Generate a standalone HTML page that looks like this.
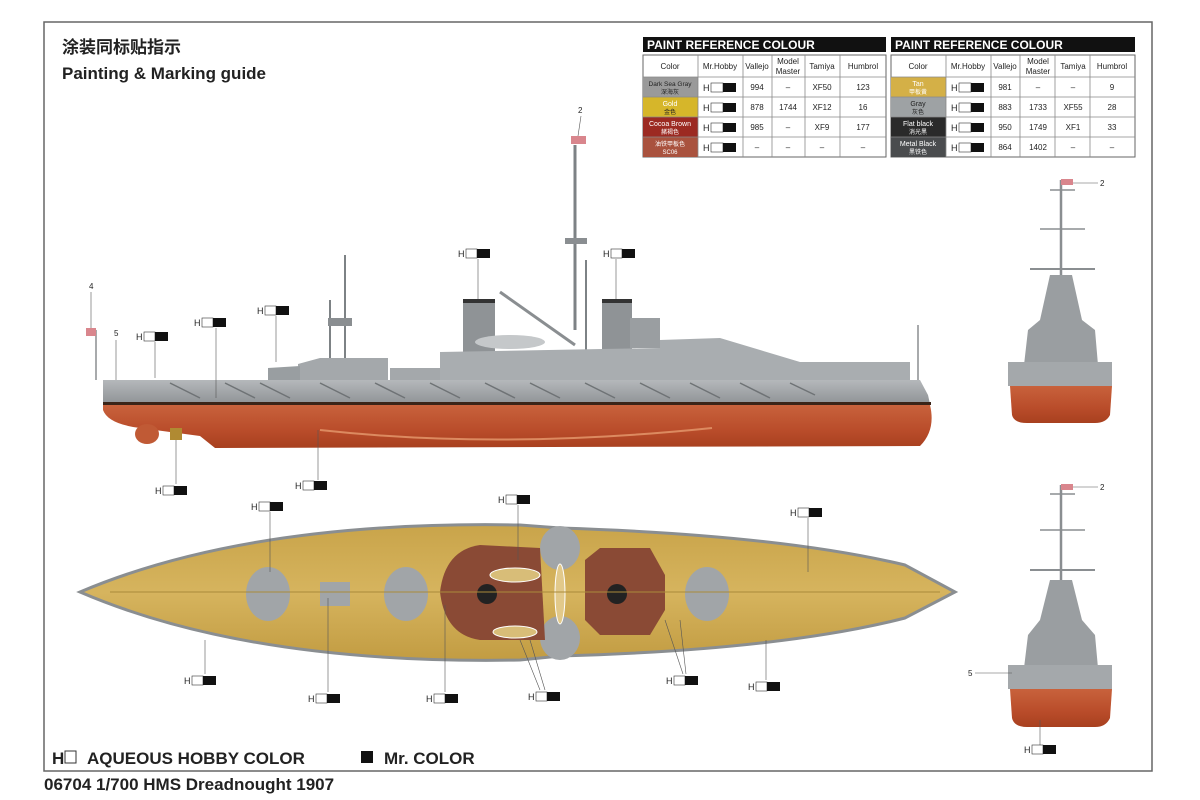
<!DOCTYPE html>
<html><head><meta charset="utf-8"><style>
body{margin:0;background:#fff;width:1200px;height:800px;overflow:hidden;font-family:"Liberation Sans","Noto Sans CJK SC",sans-serif}
svg{display:block}
</style></head><body>
<svg width="1200" height="800" viewBox="0 0 1200 800" font-family="Liberation Sans, Noto Sans CJK SC, sans-serif">
<defs>
<linearGradient id="hull" x1="0" y1="0" x2="0" y2="1"><stop offset="0" stop-color="#c8623c"/><stop offset="0.6" stop-color="#b94c2a"/><stop offset="1" stop-color="#a8401f"/></linearGradient>
<linearGradient id="gray" x1="0" y1="0" x2="0" y2="1"><stop offset="0" stop-color="#b5b8bb"/><stop offset="1" stop-color="#8f9396"/></linearGradient>
<linearGradient id="deck" x1="0" y1="0" x2="0" y2="1"><stop offset="0" stop-color="#c9a44a"/><stop offset="0.5" stop-color="#d6b45e"/><stop offset="1" stop-color="#c29c42"/></linearGradient>
</defs>
<rect x="44" y="22" width="1108" height="749" fill="none" stroke="#666" stroke-width="1.5"/>
<text x="62" y="53" font-size="17" font-weight="bold" fill="#222">涂装同标贴指示</text>
<text x="62" y="79" font-size="17" font-weight="bold" fill="#222">Painting &amp; Marking guide</text>

<!-- Left table -->
<g font-size="8" fill="#222" text-anchor="middle">
<rect x="643" y="37" width="243" height="15" fill="#111"/>
<text x="647" y="49" font-size="12" font-weight="bold" fill="#fff" text-anchor="start">PAINT  REFERENCE COLOUR</text>
<rect x="643" y="55" width="243" height="102" fill="#fff" stroke="#666"/>
<rect x="643" y="77" width="55" height="20" fill="#9a9a9a"/>
<rect x="643" y="97" width="55" height="20" fill="#d6b62a"/>
<rect x="643" y="117" width="55" height="20" fill="#9c2a22"/>
<rect x="643" y="137" width="55" height="20" fill="#a9523e"/>
<g stroke="#888" stroke-width="0.8">
<line x1="643" y1="77" x2="886" y2="77"/><line x1="643" y1="97" x2="886" y2="97"/><line x1="643" y1="117" x2="886" y2="117"/><line x1="643" y1="137" x2="886" y2="137"/>
<line x1="698" y1="55" x2="698" y2="157"/><line x1="743" y1="55" x2="743" y2="157"/><line x1="772" y1="55" x2="772" y2="157"/><line x1="805" y1="55" x2="805" y2="157"/><line x1="840" y1="55" x2="840" y2="157"/>
</g>
<text x="670" y="69">Color</text><text x="720" y="69">Mr.Hobby</text><text x="757" y="69">Vallejo</text><text x="788" y="64">Model</text><text x="788" y="74">Master</text><text x="822" y="69">Tamiya</text><text x="863" y="69">Humbrol</text>
<text x="670" y="86" font-size="6.5">Dark Sea Gray</text><text x="670" y="94" font-size="6">深海灰</text>
<text x="670" y="106" font-size="7" fill="#fff">Gold</text><text x="670" y="114" font-size="6">金色</text>
<text x="670" y="126" font-size="7" fill="#fff">Cocoa Brown</text><text x="670" y="134" font-size="6" fill="#fff">赭褐色</text>
<text x="670" y="146" font-size="6" fill="#fff">油铁甲板色</text><text x="670" y="154" font-size="6" fill="#fff">SC06</text>
<text x="757" y="90">994</text><text x="788" y="90">–</text><text x="822" y="90">XF50</text><text x="863" y="90">123</text>
<text x="757" y="110">878</text><text x="788" y="110">1744</text><text x="822" y="110">XF12</text><text x="863" y="110">16</text>
<text x="757" y="130">985</text><text x="788" y="130">–</text><text x="822" y="130">XF9</text><text x="863" y="130">177</text>
<text x="757" y="150">–</text><text x="788" y="150">–</text><text x="822" y="150">–</text><text x="863" y="150">–</text>
</g>
<!-- Right table -->
<g font-size="8" fill="#222" text-anchor="middle">
<rect x="891" y="37" width="244" height="15" fill="#111"/>
<text x="895" y="49" font-size="12" font-weight="bold" fill="#fff" text-anchor="start">PAINT  REFERENCE COLOUR</text>
<rect x="891" y="55" width="244" height="102" fill="#fff" stroke="#666"/>
<rect x="891" y="77" width="55" height="20" fill="#d4b047"/>
<rect x="891" y="97" width="55" height="20" fill="#9ea2a4"/>
<rect x="891" y="117" width="55" height="20" fill="#2a2a2a"/>
<rect x="891" y="137" width="55" height="20" fill="#4a4c4e"/>
<g stroke="#888" stroke-width="0.8">
<line x1="891" y1="77" x2="1135" y2="77"/><line x1="891" y1="97" x2="1135" y2="97"/><line x1="891" y1="117" x2="1135" y2="117"/><line x1="891" y1="137" x2="1135" y2="137"/>
<line x1="946" y1="55" x2="946" y2="157"/><line x1="991" y1="55" x2="991" y2="157"/><line x1="1020" y1="55" x2="1020" y2="157"/><line x1="1055" y1="55" x2="1055" y2="157"/><line x1="1090" y1="55" x2="1090" y2="157"/>
</g>
<text x="918" y="69">Color</text><text x="968" y="69">Mr.Hobby</text><text x="1005" y="69">Vallejo</text><text x="1038" y="64">Model</text><text x="1038" y="74">Master</text><text x="1073" y="69">Tamiya</text><text x="1112" y="69">Humbrol</text>
<text x="918" y="86" font-size="7" fill="#fff">Tan</text><text x="918" y="94" font-size="6" fill="#fff">甲板黄</text>
<text x="918" y="106" font-size="7">Gray</text><text x="918" y="114" font-size="6">灰色</text>
<text x="918" y="126" font-size="7" fill="#fff">Flat black</text><text x="918" y="134" font-size="6" fill="#fff">消光黑</text>
<text x="918" y="146" font-size="7" fill="#fff">Metal  Black</text><text x="918" y="154" font-size="6" fill="#fff">黑铁色</text>
<text x="1005" y="90">981</text><text x="1038" y="90">–</text><text x="1073" y="90">–</text><text x="1112" y="90">9</text>
<text x="1005" y="110">883</text><text x="1038" y="110">1733</text><text x="1073" y="110">XF55</text><text x="1112" y="110">28</text>
<text x="1005" y="130">950</text><text x="1038" y="130">1749</text><text x="1073" y="130">XF1</text><text x="1112" y="130">33</text>
<text x="1005" y="150">864</text><text x="1038" y="150">1402</text><text x="1073" y="150">–</text><text x="1112" y="150">–</text>
</g>
<!-- H labels in tables -->
<g font-size="9" fill="#222">
<text x="703" y="91">H</text><rect x="711" y="83" width="12" height="9" fill="#fff" stroke="#333" stroke-width=".6"/><rect x="723" y="83" width="13" height="9" fill="#111"/>
<text x="703" y="111">H</text><rect x="711" y="103" width="12" height="9" fill="#fff" stroke="#333" stroke-width=".6"/><rect x="723" y="103" width="13" height="9" fill="#111"/>
<text x="703" y="131">H</text><rect x="711" y="123" width="12" height="9" fill="#fff" stroke="#333" stroke-width=".6"/><rect x="723" y="123" width="13" height="9" fill="#111"/>
<text x="703" y="151">H</text><rect x="711" y="143" width="12" height="9" fill="#fff" stroke="#333" stroke-width=".6"/><rect x="723" y="143" width="13" height="9" fill="#111"/>
<text x="951" y="91">H</text><rect x="959" y="83" width="12" height="9" fill="#fff" stroke="#333" stroke-width=".6"/><rect x="971" y="83" width="13" height="9" fill="#111"/>
<text x="951" y="111">H</text><rect x="959" y="103" width="12" height="9" fill="#fff" stroke="#333" stroke-width=".6"/><rect x="971" y="103" width="13" height="9" fill="#111"/>
<text x="951" y="131">H</text><rect x="959" y="123" width="12" height="9" fill="#fff" stroke="#333" stroke-width=".6"/><rect x="971" y="123" width="13" height="9" fill="#111"/>
<text x="951" y="151">H</text><rect x="959" y="143" width="12" height="9" fill="#fff" stroke="#333" stroke-width=".6"/><rect x="971" y="143" width="13" height="9" fill="#111"/>
</g>

<!-- SIDE VIEW -->
<g>
<!-- masts -->
<line x1="575" y1="145" x2="575" y2="330" stroke="#7d8285" stroke-width="3"/>
<line x1="586" y1="260" x2="586" y2="350" stroke="#7d8285" stroke-width="2"/>
<rect x="565" y="238" width="22" height="6" fill="#8a8e91"/>
<rect x="571" y="136" width="15" height="8" fill="#d9868d"/>
<line x1="345" y1="255" x2="345" y2="380" stroke="#7d8285" stroke-width="2"/>
<line x1="330" y1="300" x2="330" y2="380" stroke="#7d8285" stroke-width="2"/>
<rect x="328" y="318" width="24" height="8" fill="#8a8e91"/>
<line x1="500" y1="292" x2="575" y2="345" stroke="#8a8e91" stroke-width="3"/>
<line x1="918" y1="325" x2="918" y2="380" stroke="#8a8e91" stroke-width="1.5"/>
<line x1="96" y1="330" x2="96" y2="380" stroke="#8a8e91" stroke-width="1.5"/>
<rect x="86" y="328" width="10" height="8" fill="#d9868d"/>
<!-- funnels -->
<rect x="463" y="300" width="32" height="60" fill="#8f9396"/>
<rect x="463" y="299" width="32" height="4" fill="#333"/>
<rect x="602" y="300" width="30" height="60" fill="#8f9396"/>
<rect x="602" y="299" width="30" height="4" fill="#333"/>
<!-- superstructure -->
<path d="M298 380 L298 364 L320 358 L388 358 L388 380 Z" fill="#a4a8ab"/>
<path d="M268 380 L268 368 L300 366 L300 380Z" fill="#999ea1"/>
<path d="M390 380 L390 368 L440 368 L440 380 Z" fill="#a4a8ab"/>
<path d="M440 380 L440 352 L660 348 L660 340 L720 338 L780 356 L800 362 L910 362 L910 380 Z" fill="#a9adb0"/>
<ellipse cx="510" cy="342" rx="35" ry="7" fill="#c5c8ca"/>
<rect x="630" y="318" width="30" height="30" fill="#9a9ea1"/>
<!-- topside gray -->
<path d="M103 380 L920 380 L928 395 L930 404 L103 404 Z" fill="url(#gray)"/>
<g stroke="#6f7376" stroke-width="1.5">
<line x1="170" y1="383" x2="200" y2="398"/><line x1="225" y1="383" x2="255" y2="398"/><line x1="260" y1="383" x2="290" y2="398"/><line x1="320" y1="383" x2="350" y2="398"/><line x1="375" y1="383" x2="405" y2="398"/><line x1="430" y1="383" x2="460" y2="398"/><line x1="485" y1="383" x2="515" y2="398"/><line x1="530" y1="383" x2="560" y2="398"/><line x1="585" y1="383" x2="615" y2="398"/><line x1="640" y1="383" x2="670" y2="398"/><line x1="690" y1="383" x2="720" y2="398"/><line x1="740" y1="383" x2="770" y2="398"/><line x1="790" y1="383" x2="815" y2="395"/>
</g>
<rect x="103" y="402" width="828" height="3" fill="#3a2418"/>
<!-- hull -->
<path d="M103 405 L930 405 Q936 430 920 446 L215 448 L200 436 L140 428 Q108 424 103 410 Z" fill="url(#hull)"/>
<path d="M320 430 Q500 450 712 428" stroke="#dc8a60" stroke-width="2" fill="none"/>
<ellipse cx="147" cy="434" rx="12" ry="10" fill="#c05a35"/>
<rect x="170" y="428" width="12" height="12" fill="#b08a32"/>
</g>

<!-- side labels -->
<g font-size="10" fill="#222" stroke="none">
<text x="578" y="113" font-size="8">2</text><line x1="581" y1="116" x2="578" y2="136" stroke="#555" stroke-width=".6"/>
<text x="89" y="289" font-size="8">4</text><line x1="91" y1="292" x2="91" y2="328" stroke="#555" stroke-width=".6"/>
<text x="114" y="336" font-size="8">5</text><line x1="116" y1="340" x2="116" y2="380" stroke="#555" stroke-width=".6"/>
</g>
<g font-size="9" fill="#222">
<!-- template: H white black -->
<g transform="translate(136,332)"><text x="0" y="8">H</text><rect x="8" y="0" width="11" height="9" fill="#fff" stroke="#333" stroke-width=".6"/><rect x="19" y="0" width="13" height="9" fill="#111"/></g>
<line x1="155" y1="342" x2="155" y2="378" stroke="#555" stroke-width=".6"/>
<g transform="translate(194,318)"><text x="0" y="8">H</text><rect x="8" y="0" width="11" height="9" fill="#fff" stroke="#333" stroke-width=".6"/><rect x="19" y="0" width="13" height="9" fill="#111"/></g>
<line x1="216" y1="328" x2="216" y2="398" stroke="#555" stroke-width=".6"/>
<g transform="translate(257,306)"><text x="0" y="8">H</text><rect x="8" y="0" width="11" height="9" fill="#fff" stroke="#333" stroke-width=".6"/><rect x="19" y="0" width="13" height="9" fill="#111"/></g>
<line x1="276" y1="316" x2="276" y2="362" stroke="#555" stroke-width=".6"/>
<g transform="translate(458,249)"><text x="0" y="8">H</text><rect x="8" y="0" width="11" height="9" fill="#fff" stroke="#333" stroke-width=".6"/><rect x="19" y="0" width="13" height="9" fill="#111"/></g>
<line x1="478" y1="259" x2="478" y2="299" stroke="#555" stroke-width=".6"/>
<g transform="translate(603,249)"><text x="0" y="8">H</text><rect x="8" y="0" width="11" height="9" fill="#fff" stroke="#333" stroke-width=".6"/><rect x="19" y="0" width="13" height="9" fill="#111"/></g>
<line x1="616" y1="259" x2="616" y2="299" stroke="#555" stroke-width=".6"/>
<g transform="translate(155,486)"><text x="0" y="8">H</text><rect x="8" y="0" width="11" height="9" fill="#fff" stroke="#333" stroke-width=".6"/><rect x="19" y="0" width="13" height="9" fill="#111"/></g>
<line x1="176" y1="440" x2="176" y2="484" stroke="#555" stroke-width=".6"/>
<g transform="translate(295,481)"><text x="0" y="8">H</text><rect x="8" y="0" width="11" height="9" fill="#fff" stroke="#333" stroke-width=".6"/><rect x="19" y="0" width="13" height="9" fill="#111"/></g>
<line x1="318" y1="430" x2="318" y2="480" stroke="#555" stroke-width=".6"/>
</g>

<!-- TOP VIEW -->
<path d="M80 592 Q250 520 520 525 L560 528 Q780 535 905 565 L955 592 L905 618 Q780 650 560 656 L520 660 Q250 665 80 592 Z" fill="url(#deck)" stroke="#8a8e91" stroke-width="3"/>
<g fill="#a1a5a8">
<ellipse cx="268" cy="594" rx="22" ry="27"/><ellipse cx="406" cy="594" rx="22" ry="27"/><ellipse cx="707" cy="594" rx="22" ry="27"/>
<ellipse cx="560" cy="548" rx="20" ry="22"/><ellipse cx="560" cy="638" rx="20" ry="22"/>
<rect x="320" y="582" width="30" height="24"/>
</g>
<path d="M440 592 Q445 550 480 545 L540 548 L545 640 L480 640 Q445 635 440 592 Z" fill="#8a4a35"/>
<path d="M585 560 L600 548 L650 548 L665 575 L665 610 L650 635 L600 635 L585 620 Z" fill="#8a4a35"/>
<ellipse cx="487" cy="594" rx="10" ry="10" fill="#222"/><ellipse cx="617" cy="594" rx="10" ry="10" fill="#222"/>
<ellipse cx="560" cy="594" rx="5" ry="30" fill="#e2c98a" stroke="#fff" stroke-width="1"/>
<ellipse cx="515" cy="575" rx="25" ry="7" fill="#d8bd78" stroke="#fff" stroke-width="1"/>
<ellipse cx="515" cy="632" rx="22" ry="6" fill="#d8bd78" stroke="#fff" stroke-width="1"/>
<line x1="110" y1="592" x2="940" y2="592" stroke="#a98a3a" stroke-width="1"/>

<!-- top labels -->
<g font-size="9" fill="#222">
<g transform="translate(251,502)"><text x="0" y="8">H</text><rect x="8" y="0" width="11" height="9" fill="#fff" stroke="#333" stroke-width=".6"/><rect x="19" y="0" width="13" height="9" fill="#111"/></g>
<line x1="270" y1="512" x2="270" y2="572" stroke="#555" stroke-width=".6"/>
<g transform="translate(498,495)"><text x="0" y="8">H</text><rect x="8" y="0" width="11" height="9" fill="#fff" stroke="#333" stroke-width=".6"/><rect x="19" y="0" width="13" height="9" fill="#111"/></g>
<line x1="518" y1="505" x2="518" y2="560" stroke="#555" stroke-width=".6"/>
<g transform="translate(790,508)"><text x="0" y="8">H</text><rect x="8" y="0" width="11" height="9" fill="#fff" stroke="#333" stroke-width=".6"/><rect x="19" y="0" width="13" height="9" fill="#111"/></g>
<line x1="808" y1="518" x2="808" y2="572" stroke="#555" stroke-width=".6"/>
<g transform="translate(184,676)"><text x="0" y="8">H</text><rect x="8" y="0" width="11" height="9" fill="#fff" stroke="#333" stroke-width=".6"/><rect x="19" y="0" width="13" height="9" fill="#111"/></g>
<line x1="205" y1="640" x2="205" y2="674" stroke="#555" stroke-width=".6"/>
<g transform="translate(308,694)"><text x="0" y="8">H</text><rect x="8" y="0" width="11" height="9" fill="#fff" stroke="#333" stroke-width=".6"/><rect x="19" y="0" width="13" height="9" fill="#111"/></g>
<line x1="328" y1="598" x2="328" y2="692" stroke="#555" stroke-width=".6"/>
<g transform="translate(426,694)"><text x="0" y="8">H</text><rect x="8" y="0" width="11" height="9" fill="#fff" stroke="#333" stroke-width=".6"/><rect x="19" y="0" width="13" height="9" fill="#111"/></g>
<line x1="445" y1="605" x2="445" y2="692" stroke="#555" stroke-width=".6"/>
<g transform="translate(528,692)"><text x="0" y="8">H</text><rect x="8" y="0" width="11" height="9" fill="#fff" stroke="#333" stroke-width=".6"/><rect x="19" y="0" width="13" height="9" fill="#111"/></g>
<line x1="520" y1="640" x2="540" y2="690" stroke="#555" stroke-width=".6"/><line x1="530" y1="640" x2="545" y2="690" stroke="#555" stroke-width=".6"/>
<g transform="translate(666,676)"><text x="0" y="8">H</text><rect x="8" y="0" width="11" height="9" fill="#fff" stroke="#333" stroke-width=".6"/><rect x="19" y="0" width="13" height="9" fill="#111"/></g>
<line x1="665" y1="620" x2="683" y2="674" stroke="#555" stroke-width=".6"/><line x1="680" y1="620" x2="686" y2="674" stroke="#555" stroke-width=".6"/>
<g transform="translate(748,682)"><text x="0" y="8">H</text><rect x="8" y="0" width="11" height="9" fill="#fff" stroke="#333" stroke-width=".6"/><rect x="19" y="0" width="13" height="9" fill="#111"/></g>
<line x1="766" y1="640" x2="766" y2="680" stroke="#555" stroke-width=".6"/>
</g>

<!-- FRONT VIEW -->
<g>
<line x1="1061" y1="180" x2="1061" y2="300" stroke="#8a8e91" stroke-width="2.5"/>
<line x1="1050" y1="190" x2="1075" y2="190" stroke="#8a8e91" stroke-width="1.5"/>
<line x1="1040" y1="229" x2="1085" y2="229" stroke="#8a8e91" stroke-width="1.5"/>
<line x1="1030" y1="269" x2="1095" y2="269" stroke="#8a8e91" stroke-width="2"/>
<rect x="1061" y="179" width="12" height="6" fill="#d9868d"/>
<line x1="1073" y1="183" x2="1098" y2="183" stroke="#555" stroke-width=".6"/>
<text x="1100" y="186" font-size="8" fill="#222">2</text>
<path d="M1050 275 L1072 275 L1082 320 L1095 330 L1098 365 L1024 365 L1028 330 L1040 320 Z" fill="#9a9ea1"/>
<rect x="1008" y="362" width="104" height="24" fill="#a4a8ab"/>
<path d="M1010 386 L1112 386 L1110 415 Q1106 423 1095 423 L1027 423 Q1014 423 1012 415 Z" fill="url(#hull)"/>
</g>
<!-- REAR VIEW -->
<g>
<line x1="1061" y1="485" x2="1061" y2="600" stroke="#8a8e91" stroke-width="2.5"/>
<line x1="1050" y1="494" x2="1075" y2="494" stroke="#8a8e91" stroke-width="1.5"/>
<line x1="1040" y1="530" x2="1085" y2="530" stroke="#8a8e91" stroke-width="1.5"/>
<line x1="1030" y1="570" x2="1095" y2="570" stroke="#8a8e91" stroke-width="2"/>
<rect x="1061" y="484" width="12" height="6" fill="#d9868d"/>
<line x1="1073" y1="487" x2="1098" y2="487" stroke="#555" stroke-width=".6"/>
<text x="1100" y="490" font-size="8" fill="#222">2</text>
<path d="M1050 580 L1072 580 L1082 620 L1095 635 L1098 668 L1024 668 L1028 635 L1040 620 Z" fill="#9a9ea1"/>
<rect x="1008" y="665" width="104" height="24" fill="#a4a8ab"/>
<path d="M1010 689 L1112 689 L1110 718 Q1106 727 1095 727 L1027 727 Q1014 727 1012 718 Z" fill="url(#hull)"/>
<text x="968" y="676" font-size="8" fill="#222">5</text>
<line x1="975" y1="673" x2="1012" y2="673" stroke="#555" stroke-width=".6"/>
<line x1="1040" y1="720" x2="1040" y2="745" stroke="#555" stroke-width=".6"/>
<g transform="translate(1024,745)" font-size="9" fill="#222"><text x="0" y="8">H</text><rect x="8" y="0" width="11" height="9" fill="#fff" stroke="#333" stroke-width=".6"/><rect x="19" y="0" width="13" height="9" fill="#111"/></g>
</g>

<!-- legend -->
<text x="52" y="764" font-size="17" font-weight="bold" fill="#222">H</text>
<rect x="65" y="751" width="11" height="12" fill="#fff" stroke="#333" stroke-width="1"/>
<text x="87" y="764" font-size="17" font-weight="bold" fill="#222">AQUEOUS HOBBY COLOR</text>
<rect x="361" y="751" width="12" height="12" fill="#111"/>
<text x="384" y="764" font-size="17" font-weight="bold" fill="#222">Mr. COLOR</text>
<text x="44" y="790" font-size="17" font-weight="bold" fill="#222">06704 1/700 HMS Dreadnought 1907</text>
</svg>
</body></html>
